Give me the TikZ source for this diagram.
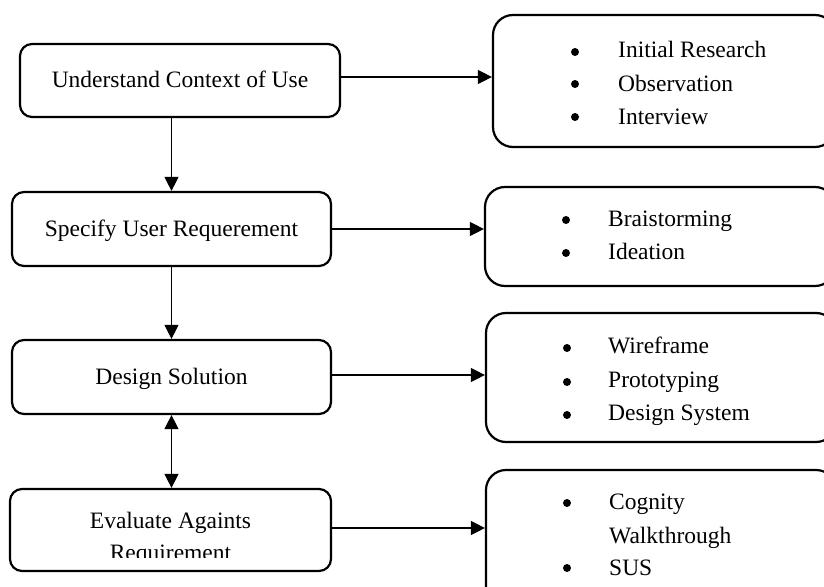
\documentclass[tikz,border=0pt]{standalone}
\usepackage{fontspec}
\setmainfont{Liberation Serif}
\usetikzlibrary{arrows.meta}
\begin{document}
\begin{tikzpicture}[x=1pt,y=-1pt,
  every node/.style={font=\fontsize{23.5}{28}\selectfont, inner sep=0pt},
  lbox/.style={draw, line width=2.2pt, rounded corners=12pt, text height=17pt, text depth=2pt},
  rbox/.style={draw, line width=2.2pt, rounded corners=20pt},
  arr/.style={-{Triangle[length=14pt,width=14pt]}, line width=1.2pt},
  darr/.style={{Triangle[length=14pt,width=14pt]}-{Triangle[length=14pt,width=14pt]}, line width=1.2pt},
  itemtext/.style={anchor=base west},
  bul/.style={circle, fill=black, minimum size=8pt}]
\useasboundingbox (0,0) rectangle (824,586);
\clip (0,0) rectangle (824,586);

% left boxes
\node[lbox, minimum width=320pt, minimum height=73pt] (B1) at (180,80.5) {Understand Context of Use};
\node[lbox, minimum width=319pt, minimum height=74pt] (B2) at (171.5,229) {Specify User Requerement};
\node[lbox, minimum width=319pt, minimum height=74pt] (B3) at (171.5,377) {Design Solution};
\node[lbox, minimum width=321pt, minimum height=82pt] (B4) at (170.5,530) {};
\begin{scope}
  \clip (0,480) rectangle (400,557.5);
  \node[anchor=base] (T4a) at (170.5,528) {Evaluate Againts};
  \node[anchor=base] (T4b) at (170.5,560) {Requirement};
\end{scope}

% right boxes
\node[rbox, minimum width=342pt, minimum height=132pt] (R1) at (664,81) {};
\node[rbox, minimum width=350pt, minimum height=99pt] (R2) at (660,236.5) {};
\node[rbox, minimum width=350pt, minimum height=129pt] (R3) at (661,377.5) {};
\node[rbox, minimum width=350pt, minimum height=140pt] (R4) at (661,540) {};

% items
\node[bul] (b11) at (575,52) {};  \node[itemtext] (i11) at (618,58) {Initial Research};
\node[bul] (b12) at (575,84) {};  \node[itemtext] (i12) at (618,91) {Observation};
\node[bul] (b13) at (575,117) {}; \node[itemtext] (i13) at (618,124) {Interview};

\node[bul] (b21) at (566,220) {}; \node[itemtext] (i21) at (608,226) {Braistorming};
\node[bul] (b22) at (566,253) {}; \node[itemtext] (i22) at (608,259) {Ideation};

\node[bul] (b31) at (567,348) {}; \node[itemtext] (i31) at (608,353) {Wireframe};
\node[bul] (b32) at (567,382) {}; \node[itemtext] (i32) at (608,387) {Prototyping};
\node[bul] (b33) at (567,415) {}; \node[itemtext] (i33) at (608,420) {Design System};

\node[bul] (b41) at (567,503) {}; \node[itemtext] (i41) at (609,509) {Cognity};
\node[itemtext] (i42) at (609,543) {Walkthrough};
\node[bul] (b43) at (567,568) {}; \node[itemtext] (i43) at (609,575) {SUS};

% vertical connectors
\draw[arr] (B2.north |- B1.south) -- (B2.north);
\draw[arr] (B2.south) -- (B3.north);
\draw[darr] (B3.south) -- (B3.south |- B4.north);

% horizontal connectors
\draw[arr] ([yshift=3.5pt]B1.east) -- ([yshift=3.5pt]B1.east -| R1.west);
\draw[arr] (B2.east) -- (B2.east -| R2.west);
\draw[arr] ([yshift=2pt]B3.east) -- ([yshift=2pt]B3.east -| R3.west);
\draw[arr] ([yshift=2pt]B4.east) -- ([yshift=2pt]B4.east -| R4.west);
\end{tikzpicture}
\end{document}
